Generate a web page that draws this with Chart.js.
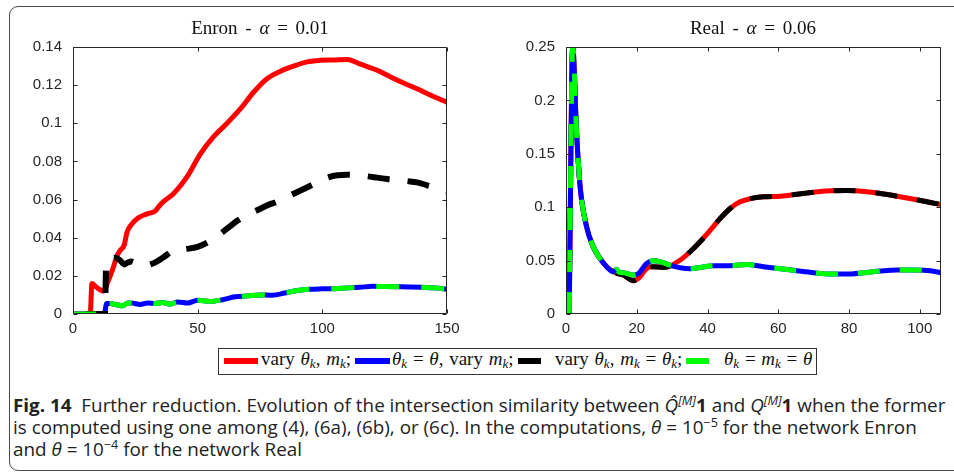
<!DOCTYPE html>
<html lang="en">
<head>
<meta charset="UTF-8">
<title>Fig. 14</title>
<script src="https://cdn.jsdelivr.net/npm/chart.js@4.4.1/dist/chart.umd.min.js"></script>
<script>
    // values (x = step, y = intersection similarity)
    const enronRedX = [0, 6.9, 7.6, 9, 10.5, 12.3, 14, 16.3, 17.5, 19, 20.5, 21.7, 23.5, 25.7, 29.7, 33, 34.5, 36.4, 40.4, 45.8, 51.1, 56.4, 61.8, 67.1, 72.5, 77.8, 83.2, 88.5, 93.9, 99.2, 104.6, 110, 115.3, 122, 127.4, 132.8, 138.2, 143.5, 150];
    const enronRedY = [0, 0, 0.016, 0.0145, 0.013, 0.012, 0.017, 0.025, 0.03, 0.0335, 0.036, 0.043, 0.047, 0.05, 0.0525, 0.054, 0.0565, 0.059, 0.0632, 0.072, 0.084, 0.093, 0.1, 0.1075, 0.1164, 0.1234, 0.1273, 0.13, 0.1322, 0.133, 0.1332, 0.1335, 0.131, 0.1278, 0.1243, 0.121, 0.118, 0.1147, 0.111];

    const enronBlackX = [0, 12.8, 13.3, 15, 17, 19, 20.5, 22, 23.5, 26, 29, 32, 36, 40, 45, 50, 54, 58, 62, 66, 70, 74, 78, 82, 86, 90, 94, 98, 102, 106, 110, 114, 118, 122, 126, 130, 134, 138, 142, 146, 150];
    const enronBlackY = [0, 0, 0.026, 0.029, 0.0295, 0.028, 0.026, 0.027, 0.0275, 0.026, 0.0255, 0.0265, 0.0295, 0.033, 0.034, 0.0352, 0.0375, 0.041, 0.045, 0.049, 0.052, 0.0545, 0.057, 0.059, 0.0615, 0.064, 0.0665, 0.069, 0.0715, 0.0728, 0.073, 0.0727, 0.0722, 0.0715, 0.0708, 0.0703, 0.0697, 0.069, 0.0675, 0.066, 0.0645];

    // blue and green coincide in Enron
    const enronBlueX = [0, 12.5, 13.5, 15, 17, 20, 22, 24, 27, 30, 33, 36, 39, 42, 46, 50, 55, 60, 65, 70, 75, 80, 85, 90, 95, 100, 105, 110, 115, 120, 125, 130, 135, 140, 145, 150];
    const enronBlueY = [0, 0, 0.0055, 0.0055, 0.005, 0.0043, 0.0058, 0.0057, 0.005, 0.0058, 0.0055, 0.006, 0.0052, 0.0063, 0.0058, 0.0072, 0.0066, 0.0075, 0.009, 0.0095, 0.01, 0.0098, 0.011, 0.0123, 0.013, 0.0132, 0.0133, 0.0137, 0.014, 0.0145, 0.0144, 0.0143, 0.0142, 0.014, 0.0137, 0.013];

    // red and black coincide in Real
    const realRedX = [0.9, 1.9, 3, 4, 5.8, 7.7, 9.6, 11.5, 13.4, 14.5, 16.2, 19, 20.5, 22.8, 24.7, 27.5, 29.4, 32.3, 35.1, 37.9, 40.8, 43.6, 46.4, 49.2, 52.1, 55.8, 60.6, 65.3, 70, 74.7, 79.4, 84.2, 88.9, 93.6, 98.3, 103, 106];
    const realRedY = [0, 0.25, 0.169, 0.119, 0.082, 0.063, 0.052, 0.0443, 0.0396, 0.038, 0.0365, 0.0312, 0.0333, 0.0427, 0.0443, 0.0436, 0.0449, 0.0505, 0.0583, 0.0676, 0.0785, 0.0895, 0.0988, 0.105, 0.108, 0.1097, 0.1103, 0.1122, 0.1141, 0.1153, 0.1156, 0.1147, 0.1128, 0.1103, 0.1075, 0.1044, 0.1025];

    // blue and green coincide in Real
    const realBlueX = [0.9, 1.9, 3, 4, 5.8, 7.7, 9.6, 11.5, 13.4, 14.3, 15, 16.2, 19, 20.5, 22.8, 24.7, 26.6, 29.4, 32.3, 35.1, 37.9, 41.7, 46.4, 51.1, 55.8, 60.6, 65.3, 70, 74.7, 79.4, 84.2, 88.9, 93.6, 98.3, 103, 106];
    const realBlueY = [0, 0.25, 0.169, 0.119, 0.082, 0.063, 0.052, 0.0443, 0.0396, 0.0418, 0.039, 0.0387, 0.0365, 0.038, 0.0474, 0.0499, 0.049, 0.0458, 0.0433, 0.0424, 0.0436, 0.0452, 0.0452, 0.0464, 0.0443, 0.0424, 0.0405, 0.0387, 0.0374, 0.0374, 0.0387, 0.0402, 0.0411, 0.0411, 0.0405, 0.0387];

    const enronXTicks = [0, 50, 100, 150];
    const enronYTicks = [0, 0.02, 0.04, 0.06, 0.08, 0.1, 0.12, 0.14];
    const realXTicks = [0, 20, 40, 60, 80, 100];
    const realYTicks = [0, 0.05, 0.1, 0.15, 0.2, 0.25];

    const seriesNames = ['vary theta_k, m_k', 'theta_k = theta, vary m_k', 'vary theta_k, m_k = theta_k', 'theta_k = m_k = theta'];
</script>
<style>
    body { margin: 0; width: 954px; height: 474px; overflow: hidden; background: #fff; position: relative; }
    .frame { position: absolute; left: 9px; top: 6px; width: 1000px; height: 463px; border: 1px solid #4a4a4a; border-radius: 9px; }
    canvas { position: absolute; top: 0; }
    .ttl { position: absolute; top: 17px; font: 19px "Liberation Serif", serif; line-height: 22px; color: #111; transform: translateX(-50%); white-space: nowrap; word-spacing: 3px; }
    .legend { position: absolute; left: 218px; top: 348px; width: 597px; height: 25px; border: 1px solid #333; background: #fff; }
    .sw { position: absolute; top: 358px; height: 6px; }
    .lt { position: absolute; top: 348px; font: 19px "Liberation Serif", serif; line-height: 22px; color: #111; white-space: nowrap; word-spacing: 1px; }
    .lt sub { font-size: 13px; font-style: italic; vertical-align: -3px; line-height: 0; }
    .cap { position: absolute; left: 13px; font: 18px "Open Sans", sans-serif; line-height: 22px; color: #222; white-space: nowrap; transform-origin: 0 0; }
    .cap sup { font-size: 12px; line-height: 0; vertical-align: 7px; }
</style>
</head>
<body>
<div class="frame"></div>
<canvas id="enron-chart" width="480" height="340" style="left:0"></canvas>
<canvas id="real-chart" width="474" height="340" style="left:480px"></canvas>

<div class="ttl" style="left:260px">Enron - <i>α</i> = 0.01</div>
<div class="ttl" style="left:753px">Real - <i>α</i> = 0.06</div>

<div class="legend"></div>
<div class="sw" style="left:224px;width:34px;background:#ff0000"></div>
<div class="lt" style="left:261px">vary <i>θ</i><sub>k</sub>, <i>m</i><sub>k</sub>;</div>
<div class="sw" style="left:355px;width:35px;background:#0000ff"></div>
<div class="lt" style="left:392px"><i>θ</i><sub>k</sub> = <i>θ</i>, vary <i>m</i><sub>k</sub>;</div>
<div class="sw" style="left:518px;width:23px;background:#000"></div>
<div class="lt" style="left:555px">vary <i>θ</i><sub>k</sub>, <i>m</i><sub>k</sub> = <i>θ</i><sub>k</sub>;</div>
<div class="sw" style="left:686px;width:23px;background:#00ff00"></div>
<div class="lt" style="left:724px"><i>θ</i><sub>k</sub> = <i>m</i><sub>k</sub> = <i>θ</i></div>

<div class="cap" id="cap1" style="top:394px"><b>Fig. 14</b>&nbsp; Further reduction. Evolution of the intersection similarity between <i>Q̂</i><sup><i>[M]</i></sup><b>1</b> and <i>Q</i><sup><i>[M]</i></sup><b>1</b> when the former</div>
<div class="cap" id="cap2" style="top:416px">is computed using one among (4), (6a), (6b), or (6c). In the computations, <i>θ</i> = 10<sup>−5</sup> for the network Enron</div>
<div class="cap" id="cap3" style="top:438px">and <i>θ</i> = 10<sup>−4</sup> for the network Real</div>

<script>
    // fit the caption to the column width, same factor for every line
    const capScale = 932 / document.getElementById('cap1').offsetWidth;
    ['cap1', 'cap2', 'cap3'].forEach(id => {
        document.getElementById(id).style.transform = 'scaleX(' + capScale + ')';
    });

    const toPoints = (xs, ys) => xs.map((x, i) => ({x: x, y: ys[i]}));

    // matlab style box with inward ticks
    const boxPlugin = {
        id: 'box',
        afterDatasetsDraw(chart) {
            const ctx = chart.ctx;
            const a = chart.chartArea;
            const xs = chart.scales.x, ys = chart.scales.y;
            const l = Math.round(a.left) + 0.5, r = Math.round(a.right) - 0.5;
            const t = Math.round(a.top) + 0.5, b = Math.round(a.bottom) - 0.5;
            ctx.save();
            ctx.strokeStyle = '#262626';
            ctx.lineWidth = 1;
            ctx.beginPath();
            ctx.rect(l, t, r - l, b - t);
            xs.ticks.forEach(tk => {
                const px = Math.round(xs.getPixelForValue(tk.value)) + 0.5;
                ctx.moveTo(px, b); ctx.lineTo(px, b - 4);
                ctx.moveTo(px, t); ctx.lineTo(px, t + 4);
            });
            ys.ticks.forEach(tk => {
                const py = Math.round(ys.getPixelForValue(tk.value)) + 0.5;
                ctx.moveTo(l, py); ctx.lineTo(l + 4, py);
                ctx.moveTo(r, py); ctx.lineTo(r - 4, py);
            });
            ctx.stroke();
            ctx.restore();
        }
    };

    function line(label, points, color, width, dash, order, dashOffset) {
        return {
            label: label,
            data: points,
            borderColor: color,
            borderWidth: width,
            borderDash: dash,
            borderDashOffset: dashOffset || 0,
            borderCapStyle: 'butt',
            pointRadius: 0,
            cubicInterpolationMode: 'monotone',
            order: order
        };
    }

    function draw(id, datasets, xMax, xTicks, yMax, yTicks, leftWidth, padRight) {
        const tickFont = {family: '"Liberation Sans", Arial, sans-serif', size: 15};
        new Chart(id, {
            type: 'line',
            data: {datasets: datasets},
            plugins: [boxPlugin],
            options: {
                responsive: false,
                animation: false,
                layout: {padding: {top: 47, right: padRight, left: 0, bottom: 0}},
                plugins: {legend: {display: false}, tooltip: {enabled: false}},
                scales: {
                    x: {
                        type: 'linear', min: 0, max: xMax,
                        afterBuildTicks: s => { s.ticks = xTicks.map(v => ({value: v})); },
                        afterFit: s => { s.height = 26; },
                        grid: {display: false, drawTicks: false},
                        border: {display: false},
                        ticks: {font: tickFont, color: '#262626', padding: 6,
                            callback: v => String(+v.toFixed(4))}
                    },
                    y: {
                        min: 0, max: yMax,
                        afterBuildTicks: s => { s.ticks = yTicks.map(v => ({value: v})); },
                        afterFit: s => { s.width = leftWidth; },
                        grid: {display: false, drawTicks: false},
                        border: {display: false},
                        ticks: {font: tickFont, color: '#262626', padding: 11,
                            callback: v => String(+v.toFixed(4))}
                    }
                }
            }
        });
    }

    draw('enron-chart', [
        line(seriesNames[0], toPoints(enronRedX, enronRedY), '#ff0000', 5, [], 3),
        line(seriesNames[1], toPoints(enronBlueX, enronBlueY), '#0000ff', 5, [], 2),
        line(seriesNames[2], toPoints(enronBlackX, enronBlackY), '#000000', 6, [22, 18], 1, 27),
        line(seriesNames[3], toPoints(enronBlueX, enronBlueY), '#00ff00', 5, [23, 22], 0)
    ], 150, enronXTicks, 0.14, enronYTicks, 73, 33);

    draw('real-chart', [
        line(seriesNames[0], toPoints(realRedX, realRedY), '#ff0000', 5, [], 3),
        line(seriesNames[1], toPoints(realBlueX, realBlueY), '#0000ff', 5, [], 1),
        line(seriesNames[2], toPoints(realRedX, realRedY), '#000000', 5, [22, 20], 2),
        line(seriesNames[3], toPoints(realBlueX, realBlueY), '#00ff00', 5, [22, 20], 0)
    ], 106, realXTicks, 0.25, realYTicks, 86, 13);
</script>
</body>
</html>
